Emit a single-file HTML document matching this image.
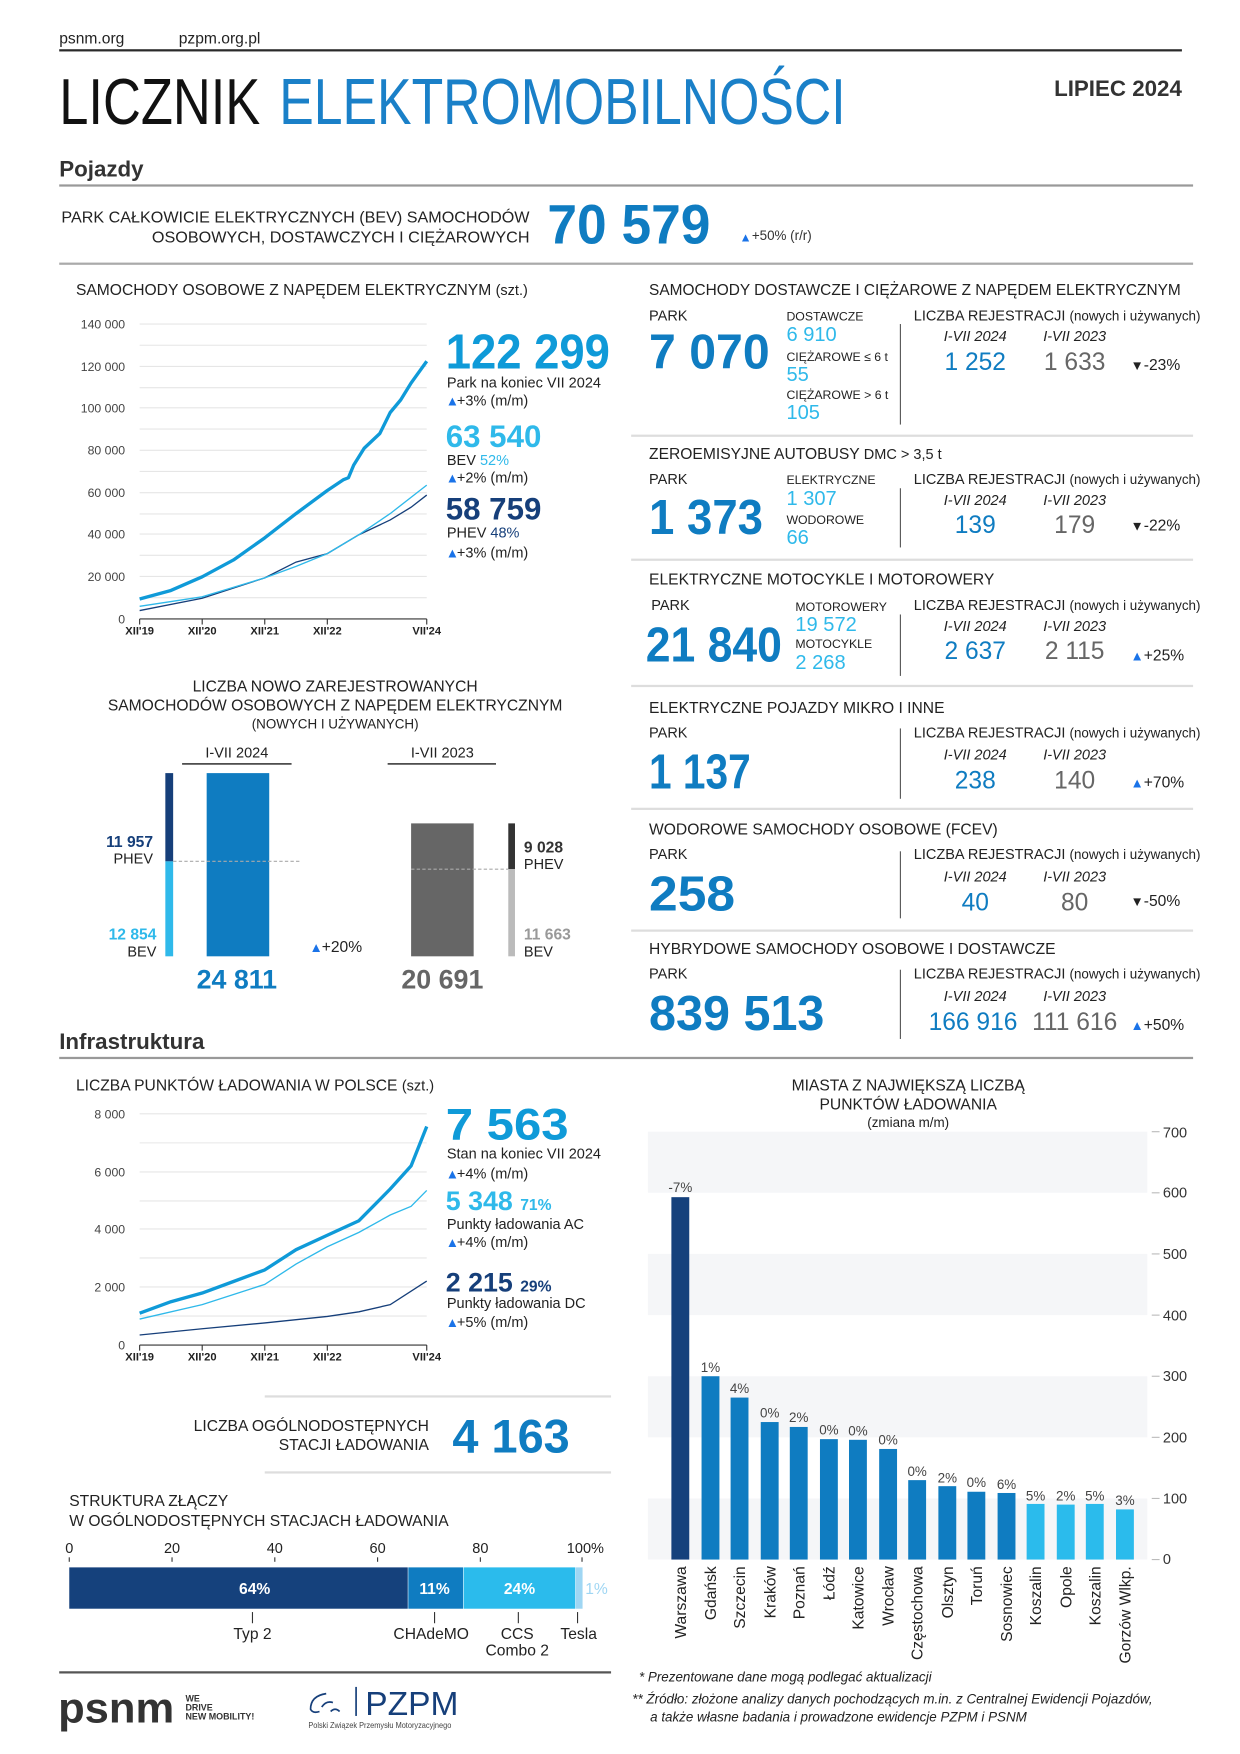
<!DOCTYPE html>
<html><head><meta charset="utf-8"><style>
html,body{margin:0;padding:0;background:#fff;}
svg{display:block;font-family:"Liberation Sans",sans-serif;}
</style></head><body>
<svg width="1240" height="1754" viewBox="0 0 1110 1570" xmlns="http://www.w3.org/2000/svg">
<rect width="1110" height="1570" fill="#fff"/>
<g fill="#222">
<text x="53" y="39" font-size="14">psnm.org</text>
<text x="160" y="39" font-size="14">pzpm.org.pl</text>
</g>
<rect x="53" y="44" width="1005" height="2" fill="#2a2a2a"/>
<text x="53" y="111" font-size="58" fill="#111" textLength="180" lengthAdjust="spacingAndGlyphs">LICZNIK</text>
<text x="250" y="111" font-size="58" fill="#1a80c8" textLength="507" lengthAdjust="spacingAndGlyphs">ELEKTROMOBILNOŚCI</text>
<text x="1058" y="86" font-size="20" font-weight="bold" fill="#333" text-anchor="end">LIPIEC 2024</text>
<text x="53" y="158" font-size="20" font-weight="bold" fill="#333">Pojazdy</text>
<rect x="53" y="165" width="1015" height="2" fill="#999"/>
<g font-size="14" fill="#222">
<text x="55" y="199" textLength="419" lengthAdjust="spacingAndGlyphs">PARK CAŁKOWICIE ELEKTRYCZNYCH (BEV) SAMOCHODÓW</text>
<text x="136" y="217" textLength="338" lengthAdjust="spacingAndGlyphs">OSOBOWYCH, DOSTAWCZYCH I CIĘŻAROWYCH</text>
</g>
<text x="490" y="218" font-size="50" font-weight="bold" fill="#0f7cc1" textLength="146" lengthAdjust="spacingAndGlyphs">70 579</text>
<text x="662" y="216" font-size="11" fill="#1a73e8">▲</text>
<text x="673" y="215" font-size="12" fill="#333">+50% (r/r)</text>
<rect x="53" y="235" width="1015" height="2" fill="#aaa"/>

<!-- Chart 1 -->
<text x="68" y="264" font-size="14" fill="#222">SAMOCHODY OSOBOWE Z NAPĘDEM ELEKTRYCZNYM <tspan font-size="13">(szt.)</tspan></text>
<g stroke="#e6e6e6" stroke-width="1">
<line x1="125" x2="382" y1="290" y2="290"/><line x1="125" x2="382" y1="309" y2="309"/>
<line x1="125" x2="382" y1="328" y2="328"/><line x1="125" x2="382" y1="347" y2="347"/>
<line x1="125" x2="382" y1="365" y2="365"/><line x1="125" x2="382" y1="384" y2="384"/>
<line x1="125" x2="382" y1="403" y2="403"/><line x1="125" x2="382" y1="422" y2="422"/>
<line x1="125" x2="382" y1="441" y2="441"/><line x1="125" x2="382" y1="460" y2="460"/>
<line x1="125" x2="382" y1="478" y2="478"/><line x1="125" x2="382" y1="497" y2="497"/>
<line x1="125" x2="382" y1="516" y2="516"/><line x1="125" x2="382" y1="535" y2="535"/>
</g>
<line x1="125" x2="382" y1="554" y2="554" stroke="#333" stroke-width="1"/>
<g font-size="11" fill="#444" text-anchor="end">
<text x="112" y="294">140 000</text><text x="112" y="332">120 000</text><text x="112" y="369">100 000</text>
<text x="112" y="407">80 000</text><text x="112" y="445">60 000</text><text x="112" y="482">40 000</text>
<text x="112" y="520">20 000</text><text x="112" y="558">0</text>
</g>
<g stroke="#333" stroke-width="1">
<line x1="125" x2="125" y1="554" y2="559"/><line x1="181" x2="181" y1="554" y2="559"/><line x1="237" x2="237" y1="554" y2="559"/><line x1="293" x2="293" y1="554" y2="559"/><line x1="382" x2="382" y1="554" y2="559"/>
</g>
<g font-size="10" fill="#222" text-anchor="middle" font-weight="bold">
<text x="125" y="568">XII'19</text><text x="181" y="568">XII'20</text><text x="237" y="568">XII'21</text><text x="293" y="568">XII'22</text><text x="382" y="568">VII'24</text>
</g>
<polyline fill="none" stroke="#163f7a" stroke-width="1.2" points="125,546.5 181,535.5 237,517.2 265,503.1 293,495.5 321.3,478.6 349.3,465.4 368,454 382,443.1"/>
<polyline fill="none" stroke="#2fb9ea" stroke-width="1.2" points="125,542.7 181,534.2 237,517.2 265,506.9 293,495.5 321.3,478.6 349.3,459.7 382,434.2"/>
<polyline fill="none" stroke="#0f9ad8" stroke-width="3" stroke-linejoin="round" points="125,536.1 153,528.5 181,516.3 209,501.2 237,481.4 265,459.7 293,439 307.2,429.5 311.9,427.6 316.6,416.3 326,401.2 340,388 349.3,369.2 358.7,357.9 368,342.8 382,323.3"/>
<text x="399" y="330" font-size="44" font-weight="bold" fill="#0f9ad8" textLength="147" lengthAdjust="spacingAndGlyphs">122 299</text>
<text x="400" y="347" font-size="13" fill="#222">Park na koniec VII 2024</text>
<text x="399" y="363" font-size="12" fill="#1a73e8">▲</text><text x="409" y="363" font-size="13" fill="#222">+3% (m/m)</text>
<text x="399" y="400" font-size="28" font-weight="bold" fill="#2fb9ea">63 540</text>
<text x="400" y="416" font-size="13" fill="#222">BEV <tspan fill="#2fb9ea">52%</tspan></text>
<text x="399" y="432" font-size="12" fill="#1a73e8">▲</text><text x="409" y="432" font-size="13" fill="#222">+2% (m/m)</text>
<text x="399" y="465" font-size="28" font-weight="bold" fill="#163f7a">58 759</text>
<text x="400" y="481" font-size="13" fill="#222">PHEV <tspan fill="#163f7a">48%</tspan></text>
<text x="399" y="499" font-size="12" fill="#1a73e8">▲</text><text x="409" y="499" font-size="13" fill="#222">+3% (m/m)</text>

<!-- Chart 2 -->
<g text-anchor="middle" fill="#222" font-size="14">
<text x="300" y="619">LICZBA NOWO ZAREJESTROWANYCH</text>
<text x="300" y="636">SAMOCHODÓW OSOBOWYCH Z NAPĘDEM ELEKTRYCZNYM</text>
<text x="300" y="652" font-size="12">(NOWYCH I UŻYWANYCH)</text>
<text x="212" y="678" font-size="13">I-VII 2024</text>
<text x="396" y="678" font-size="13">I-VII 2023</text>
</g>
<rect x="163" y="683" width="98" height="1.5" fill="#444"/>
<rect x="347" y="683" width="97" height="1.5" fill="#444"/>
<rect x="148" y="692" width="7" height="79" fill="#163f7a"/>
<rect x="148" y="771" width="7" height="85" fill="#2fb9ea"/>
<rect x="185" y="692" width="56" height="164" fill="#0f7cc1"/>
<line x1="155" x2="268" y1="771" y2="771" stroke="#aaa" stroke-dasharray="3,2"/>
<g font-size="14" text-anchor="end">
<text x="137" y="758" fill="#163f7a" font-weight="bold">11 957</text>
<text x="137" y="773" fill="#222" font-size="13">PHEV</text>
<text x="140" y="841" fill="#2fb9ea" font-weight="bold">12 854</text>
<text x="140" y="856" fill="#222" font-size="13">BEV</text>
</g>
<text x="212" y="885" font-size="24" font-weight="bold" fill="#0f7cc1" text-anchor="middle">24 811</text>
<text x="277" y="852" font-size="12" fill="#1a73e8">▲</text><text x="288" y="852" font-size="14" fill="#222">+20%</text>
<rect x="368" y="737" width="56" height="119" fill="#666"/>
<rect x="455" y="737" width="6" height="41" fill="#333"/>
<rect x="455" y="778" width="6" height="78" fill="#bbb"/>
<line x1="368" x2="455" y1="778" y2="778" stroke="#aaa" stroke-dasharray="3,2"/>
<text x="469" y="763" font-size="14" font-weight="bold" fill="#333">9 028</text>
<text x="469" y="778" font-size="13" fill="#222">PHEV</text>
<text x="469" y="841" font-size="14" font-weight="bold" fill="#999">11 663</text>
<text x="469" y="856" font-size="13" fill="#222">BEV</text>
<text x="396" y="885" font-size="24" font-weight="bold" fill="#666" text-anchor="middle">20 691</text>

<!-- Right column -->
<g font-size="14" fill="#222">
<text x="581" y="264" textLength="476" lengthAdjust="spacingAndGlyphs">SAMOCHODY DOSTAWCZE I CIĘŻAROWE Z NAPĘDEM ELEKTRYCZNYM</text>
<text x="581" y="411">ZEROEMISYJNE AUTOBUSY <tspan font-size="13">DMC &gt; 3,5 t</tspan></text>
<text x="581" y="523">ELEKTRYCZNE MOTOCYKLE I MOTOROWERY</text>
<text x="581" y="638">ELEKTRYCZNE POJAZDY MIKRO I INNE</text>
<text x="581" y="747">WODOROWE SAMOCHODY OSOBOWE (FCEV)</text>
<text x="581" y="854">HYBRYDOWE SAMOCHODY OSOBOWE I DOSTAWCZE</text>
</g>
<g font-size="13" fill="#222">
<text x="581" y="287">PARK</text><text x="581" y="433">PARK</text><text x="583" y="546">PARK</text>
<text x="581" y="660">PARK</text><text x="581" y="769">PARK</text><text x="581" y="876">PARK</text>
<text x="818" y="287">LICZBA REJESTRACJI <tspan font-size="12">(nowych i używanych)</tspan></text>
<text x="818" y="433">LICZBA REJESTRACJI <tspan font-size="12">(nowych i używanych)</tspan></text>
<text x="818" y="546">LICZBA REJESTRACJI <tspan font-size="12">(nowych i używanych)</tspan></text>
<text x="818" y="660">LICZBA REJESTRACJI <tspan font-size="12">(nowych i używanych)</tspan></text>
<text x="818" y="769">LICZBA REJESTRACJI <tspan font-size="12">(nowych i używanych)</tspan></text>
<text x="818" y="876">LICZBA REJESTRACJI <tspan font-size="12">(nowych i używanych)</tspan></text>
</g>
<g font-size="13" fill="#222" font-style="italic" text-anchor="middle">
<text x="873" y="305">I-VII 2024</text><text x="962" y="305">I-VII 2023</text>
<text x="873" y="452">I-VII 2024</text><text x="962" y="452">I-VII 2023</text>
<text x="873" y="565">I-VII 2024</text><text x="962" y="565">I-VII 2023</text>
<text x="873" y="680">I-VII 2024</text><text x="962" y="680">I-VII 2023</text>
<text x="873" y="789">I-VII 2024</text><text x="962" y="789">I-VII 2023</text>
<text x="873" y="896">I-VII 2024</text><text x="962" y="896">I-VII 2023</text>
</g>
<g font-size="22" text-anchor="middle">
<text x="873" y="331" fill="#0f7cc1">1 252</text><text x="962" y="331" fill="#666">1 633</text>
<text x="873" y="477" fill="#0f7cc1">139</text><text x="962" y="477" fill="#666">179</text>
<text x="873" y="590" fill="#0f7cc1">2 637</text><text x="962" y="590" fill="#666">2 115</text>
<text x="873" y="706" fill="#0f7cc1">238</text><text x="962" y="706" fill="#666">140</text>
<text x="873" y="815" fill="#0f7cc1">40</text><text x="962" y="815" fill="#666">80</text>
<text x="871" y="922" fill="#0f7cc1">166 916</text><text x="962" y="922" fill="#666">111 616</text>
</g>
<g font-size="14" fill="#222">
<text x="1012" y="331"><tspan fill="#222" font-size="12">▼</tspan>-23%</text>
<text x="1012" y="475"><tspan font-size="12">▼</tspan>-22%</text>
<text x="1012" y="591"><tspan fill="#1a73e8" font-size="12">▲</tspan>+25%</text>
<text x="1012" y="705"><tspan fill="#1a73e8" font-size="12">▲</tspan>+70%</text>
<text x="1012" y="811"><tspan font-size="12">▼</tspan>-50%</text>
<text x="1012" y="922"><tspan fill="#1a73e8" font-size="12">▲</tspan>+50%</text>
</g>
<g fill="#0f7cc1" font-weight="bold" font-size="44">
<text x="581" y="330" textLength="108" lengthAdjust="spacingAndGlyphs">7 070</text>
<text x="581" y="478" textLength="102" lengthAdjust="spacingAndGlyphs">1 373</text>
<text x="578" y="592" textLength="122" lengthAdjust="spacingAndGlyphs">21 840</text>
<text x="581" y="706" textLength="91" lengthAdjust="spacingAndGlyphs">1 137</text>
<text x="581" y="815" textLength="77" lengthAdjust="spacingAndGlyphs">258</text>
<text x="581" y="922" textLength="157" lengthAdjust="spacingAndGlyphs">839 513</text>
</g>
<g font-size="11" fill="#222">
<text x="704" y="287">DOSTAWCZE</text><text x="704" y="323">CIĘŻAROWE ≤ 6 t</text><text x="704" y="357">CIĘŻAROWE &gt; 6 t</text>
<text x="704" y="433">ELEKTRYCZNE</text><text x="704" y="469">WODOROWE</text>
<text x="712" y="547">MOTOROWERY</text><text x="712" y="580">MOTOCYKLE</text>
</g>
<g font-size="18" fill="#2fb9ea">
<text x="704" y="305">6 910</text><text x="704" y="341">55</text><text x="704" y="375">105</text>
<text x="704" y="452">1 307</text><text x="704" y="487">66</text>
<text x="712" y="565">19 572</text><text x="712" y="599">2 268</text>
</g>
<g stroke="#555" stroke-width="1">
<line x1="806" x2="806" y1="290" y2="380"/><line x1="806" x2="806" y1="437" y2="490"/>
<line x1="806" x2="806" y1="550" y2="605"/><line x1="806" x2="806" y1="652" y2="715"/>
<line x1="806" x2="806" y1="762" y2="822"/><line x1="806" x2="806" y1="868" y2="930"/>
</g>
<g fill="#ddd">
<rect x="565" y="389" width="503" height="2"/><rect x="565" y="500" width="503" height="2"/>
<rect x="565" y="613" width="503" height="2"/><rect x="565" y="723" width="503" height="2"/>
<rect x="565" y="832" width="503" height="2"/>
</g>

<!-- Infrastruktura -->
<text x="53" y="939" font-size="20" font-weight="bold" fill="#333">Infrastruktura</text>
<rect x="53" y="946" width="1015" height="2" fill="#999"/>
<text x="68" y="976" font-size="14" fill="#222">LICZBA PUNKTÓW ŁADOWANIA W POLSCE <tspan font-size="13">(szt.)</tspan></text>
<g stroke="#e6e6e6">
<line x1="125" x2="382" y1="997" y2="997"/><line x1="125" x2="382" y1="1023" y2="1023"/>
<line x1="125" x2="382" y1="1049" y2="1049"/><line x1="125" x2="382" y1="1075" y2="1075"/>
<line x1="125" x2="382" y1="1100" y2="1100"/><line x1="125" x2="382" y1="1126" y2="1126"/>
<line x1="125" x2="382" y1="1152" y2="1152"/><line x1="125" x2="382" y1="1178" y2="1178"/>
</g>
<line x1="125" x2="382" y1="1204" y2="1204" stroke="#333"/>
<g stroke="#333">
<line x1="125" x2="125" y1="1204" y2="1209"/><line x1="181" x2="181" y1="1204" y2="1209"/><line x1="237" x2="237" y1="1204" y2="1209"/><line x1="293" x2="293" y1="1204" y2="1209"/><line x1="382" x2="382" y1="1204" y2="1209"/>
</g>
<g font-size="11" fill="#444" text-anchor="end">
<text x="112" y="1001">8 000</text><text x="112" y="1053">6 000</text><text x="112" y="1104">4 000</text><text x="112" y="1156">2 000</text><text x="112" y="1208">0</text>
</g>
<g font-size="10" fill="#222" text-anchor="middle" font-weight="bold">
<text x="125" y="1218">XII'19</text><text x="181" y="1218">XII'20</text><text x="237" y="1218">XII'21</text><text x="293" y="1218">XII'22</text><text x="382" y="1218">VII'24</text>
</g>
<polyline fill="none" stroke="#163f7a" stroke-width="1.2" points="125,1195 181,1189.4 237,1184.2 293,1178.4 321.3,1174.2 349.3,1167.8 382,1146.7"/>
<polyline fill="none" stroke="#2fb9ea" stroke-width="1.2" points="125,1180.7 181,1167.8 237,1149.7 265,1131.5 293,1116 321.3,1103.1 349.3,1087.6 368,1079.8 382,1065.6"/>
<polyline fill="none" stroke="#0f9ad8" stroke-width="3" stroke-linejoin="round" points="125,1175.5 153,1165.2 181,1157.4 209,1147.1 237,1136.7 265,1118.6 293,1105.7 321.3,1092.7 349.3,1064.3 368,1043.6 382,1008.3"/>
<text x="399" y="1020" font-size="40" font-weight="bold" fill="#0f9ad8" textLength="110" lengthAdjust="spacingAndGlyphs">7 563</text>
<text x="400" y="1037" font-size="13" fill="#222">Stan na koniec VII 2024</text>
<text x="399" y="1055" font-size="12" fill="#1a73e8">▲</text><text x="409" y="1055" font-size="13" fill="#222">+4% (m/m)</text>
<text x="399" y="1083" font-size="24" font-weight="bold" fill="#2fb9ea">5 348 <tspan font-size="14">71%</tspan></text>
<text x="400" y="1100" font-size="13" fill="#222">Punkty ładowania AC</text>
<text x="399" y="1116" font-size="12" fill="#1a73e8">▲</text><text x="409" y="1116" font-size="13" fill="#222">+4% (m/m)</text>
<text x="399" y="1156" font-size="24" font-weight="bold" fill="#163f7a">2 215 <tspan font-size="14">29%</tspan></text>
<text x="400" y="1171" font-size="13" fill="#222">Punkty ładowania DC</text>
<text x="399" y="1188" font-size="12" fill="#1a73e8">▲</text><text x="409" y="1188" font-size="13" fill="#222">+5% (m/m)</text>

<rect x="237" y="1249" width="310" height="2" fill="#ddd"/>
<g font-size="14" fill="#222" text-anchor="end">
<text x="384" y="1281">LICZBA OGÓLNODOSTĘPNYCH</text>
<text x="384" y="1298">STACJI ŁADOWANIA</text>
</g>
<text x="405" y="1300" font-size="42" font-weight="bold" fill="#0f7cc1" textLength="105" lengthAdjust="spacingAndGlyphs">4 163</text>
<rect x="237" y="1317" width="310" height="2" fill="#ddd"/>

<g font-size="14" fill="#222">
<text x="62" y="1348">STRUKTURA ZŁĄCZY</text>
<text x="62" y="1366">W OGÓLNODOSTĘPNYCH STACJACH ŁADOWANIA</text>
</g>
<g font-size="13" fill="#222" text-anchor="middle">
<text x="62" y="1390">0</text><text x="154" y="1390">20</text><text x="246" y="1390">40</text><text x="338" y="1390">60</text><text x="430" y="1390">80</text><text x="524" y="1390">100%</text>
</g>
<g stroke="#333"><line x1="62" x2="62" y1="1394" y2="1398"/><line x1="154" x2="154" y1="1394" y2="1398"/><line x1="246" x2="246" y1="1394" y2="1398"/><line x1="338" x2="338" y1="1394" y2="1398"/><line x1="430" x2="430" y1="1394" y2="1398"/><line x1="521" x2="521" y1="1394" y2="1398"/></g>
<rect x="62" y="1403" width="303" height="37" fill="#15417c"/>
<rect x="365.5" y="1403" width="49" height="37" fill="#0f7cc1"/>
<rect x="415" y="1403" width="100" height="37" fill="#2bbbec"/>
<rect x="515.5" y="1403" width="6" height="37" fill="#9fd6f3"/>
<g font-size="14" fill="#fff" text-anchor="middle" font-weight="bold">
<text x="228" y="1427">64%</text><text x="389" y="1427">11%</text><text x="465" y="1427">24%</text>
</g>
<text x="534" y="1427" font-size="14" fill="#9fd6f3" text-anchor="middle">1%</text>
<g stroke="#333"><line x1="226" x2="226" y1="1443" y2="1453"/><line x1="389" x2="389" y1="1443" y2="1453"/><line x1="464" x2="464" y1="1443" y2="1453"/><line x1="517" x2="517" y1="1443" y2="1453"/></g>
<g font-size="14" fill="#222" text-anchor="middle">
<text x="226" y="1467">Typ 2</text><text x="386" y="1467">CHAdeMO</text><text x="463" y="1467">CCS</text><text x="463" y="1482">Combo 2</text><text x="518" y="1467">Tesla</text>
</g>
<rect x="53" y="1496" width="494" height="2" fill="#555"/>

<!-- Footer logos -->
<text x="52" y="1542" font-size="38" font-weight="bold" fill="#333" textLength="104" lengthAdjust="spacingAndGlyphs">psnm</text>
<g font-size="8" font-weight="bold" fill="#333"><text x="166" y="1523">WE</text><text x="166" y="1531">DRIVE</text><text x="166" y="1539">NEW MOBILITY!</text></g>
<path d="M292 1516 q-14 2 -14 14 q2 4 8 2 M288 1528 q4 -6 10 -4 M296 1532 q4 -4 8 0" fill="none" stroke="#163f7a" stroke-width="1.5"/>
<rect x="318" y="1510" width="1.5" height="26" fill="#163f7a"/>
<text x="327" y="1535" font-size="30" fill="#163f7a">PZPM</text>
<text x="276" y="1547" font-size="7" fill="#444" textLength="128" lengthAdjust="spacingAndGlyphs">Polski Związek Przemysłu Motoryzacyjnego</text>
<g font-size="12" fill="#222" font-style="italic">
<text x="572" y="1505">* Prezentowane dane mogą podlegać aktualizacji</text>
<text x="566" y="1525">** Źródło: złożone analizy danych pochodzących m.in. z Centralnej Ewidencji Pojazdów,</text>
<text x="582" y="1541">a także własne badania i prowadzone ewidencje PZPM i PSNM</text>
</g>

<!-- Cities chart -->
<g font-size="14" fill="#222" text-anchor="middle">
<text x="813" y="976">MIASTA Z NAJWIĘKSZĄ LICZBĄ</text>
<text x="813" y="993">PUNKTÓW ŁADOWANIA</text>
<text x="813" y="1009" font-size="12">(zmiana m/m)</text>
</g>
<g fill="#f5f6f8">
<rect x="580" y="1013" width="447" height="54.7"/>
<rect x="580" y="1122.4" width="447" height="54.8"/>
<rect x="580" y="1231.9" width="447" height="54.7"/>
<rect x="580" y="1341.3" width="447" height="54.7"/>
</g>
<g stroke="#bbb"><line x1="1031" x2="1038" y1="1013" y2="1013"/><line x1="1031" x2="1038" y1="1067.7" y2="1067.7"/><line x1="1031" x2="1038" y1="1122.4" y2="1122.4"/><line x1="1031" x2="1038" y1="1177.2" y2="1177.2"/><line x1="1031" x2="1038" y1="1231.9" y2="1231.9"/><line x1="1031" x2="1038" y1="1286.6" y2="1286.6"/><line x1="1031" x2="1038" y1="1341.3" y2="1341.3"/><line x1="1031" x2="1038" y1="1396" y2="1396"/></g>
<g font-size="13" fill="#333">
<text x="1041" y="1018">700</text><text x="1041" y="1072">600</text><text x="1041" y="1127">500</text><text x="1041" y="1182">400</text><text x="1041" y="1236">300</text><text x="1041" y="1291">200</text><text x="1041" y="1346">100</text><text x="1041" y="1400">0</text>
</g>
<rect x="601" y="1071.6" width="16" height="324.4" fill="#15417c"/>
<g fill="#0f7cc1">
<rect x="628" y="1231.9" width="16" height="164.1"/><rect x="654" y="1251" width="16" height="145"/>
<rect x="681" y="1272.9" width="16" height="123.1"/><rect x="707" y="1277.3" width="16" height="118.7"/>
<rect x="734" y="1288.2" width="16" height="107.8"/><rect x="760" y="1288.8" width="16" height="107.2"/>
<rect x="787" y="1297" width="16" height="99"/><rect x="813" y="1324.9" width="16" height="71.1"/>
<rect x="840" y="1330.3" width="16" height="65.7"/><rect x="866" y="1335.3" width="16" height="60.7"/>
<rect x="893" y="1336.4" width="16" height="59.6"/>
</g>
<g fill="#2bbbec">
<rect x="919" y="1346.2" width="16" height="49.8"/><rect x="946" y="1346.8" width="16" height="49.2"/>
<rect x="972" y="1346.2" width="16" height="49.8"/><rect x="999" y="1351.1" width="16" height="44.9"/>
</g>
<g font-size="12" fill="#444" text-anchor="middle">
<text x="609" y="1067">-7%</text><text x="636" y="1228">1%</text><text x="662" y="1247">4%</text><text x="689" y="1269">0%</text>
<text x="715" y="1273">2%</text><text x="742" y="1284">0%</text><text x="768" y="1285">0%</text><text x="795" y="1293">0%</text>
<text x="821" y="1321">0%</text><text x="848" y="1327">2%</text><text x="874" y="1331">0%</text><text x="901" y="1333">6%</text>
<text x="927" y="1343">5%</text><text x="954" y="1343">2%</text><text x="980" y="1343">5%</text><text x="1007" y="1347">3%</text>
</g>
<g font-size="14" fill="#222" text-anchor="end">
<text transform="translate(614,1402) rotate(-90)">Warszawa</text>
<text transform="translate(641,1402) rotate(-90)">Gdańsk</text>
<text transform="translate(667,1402) rotate(-90)">Szczecin</text>
<text transform="translate(694,1402) rotate(-90)">Kraków</text>
<text transform="translate(720,1402) rotate(-90)">Poznań</text>
<text transform="translate(747,1402) rotate(-90)">Łódź</text>
<text transform="translate(773,1402) rotate(-90)">Katowice</text>
<text transform="translate(800,1402) rotate(-90)">Wrocław</text>
<text transform="translate(826,1402) rotate(-90)">Częstochowa</text>
<text transform="translate(853,1402) rotate(-90)">Olsztyn</text>
<text transform="translate(879,1402) rotate(-90)">Toruń</text>
<text transform="translate(906,1402) rotate(-90)">Sosnowiec</text>
<text transform="translate(932,1402) rotate(-90)">Koszalin</text>
<text transform="translate(959,1402) rotate(-90)">Opole</text>
<text transform="translate(985,1402) rotate(-90)">Koszalin</text>
<text transform="translate(1012,1402) rotate(-90)">Gorzów Wlkp.</text>
</g>
</svg>
</body></html>
